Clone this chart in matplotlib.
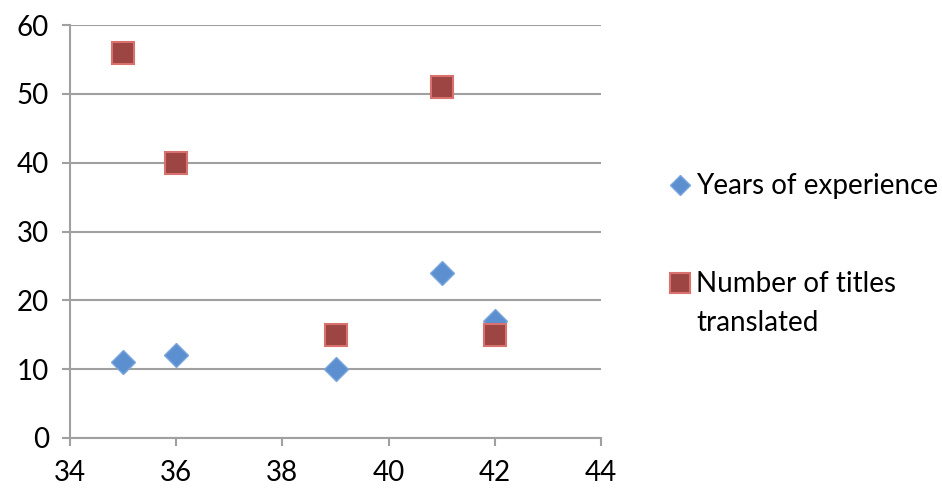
import matplotlib.pyplot as plt
from matplotlib.lines import Line2D

# translator ages vs experience / output
age = [35, 36, 39, 41, 42]
years_exp = [11, 12, 10, 24, 17]
titles = [56, 40, 15, 51, 15]
series_names = ['Years of experience', 'Number of titles\ntranslated']

plt.rcParams['font.family'] = ['Lato', 'DejaVu Sans']
grey = '#a0a0a0'
blue_face, blue_edge = '#5b8fcf', '#7aa6dc'
red_face, red_edge = '#9c4543', '#d9716f'

fig = plt.figure(figsize=(9.42, 4.91), dpi=100)
ax = fig.add_axes([70 / 942, 1 - 438 / 491, 531 / 942, 413 / 491])

ax.plot(age, years_exp, linestyle='none', marker='D', markersize=12,
        markerfacecolor=blue_face, markeredgecolor=blue_edge, markeredgewidth=1,
        zorder=3)
ax.plot(age, titles, linestyle='none', marker='s', markersize=16.5,
        markerfacecolor=red_face, markeredgecolor=red_edge, markeredgewidth=1.5,
        zorder=4)

ax.set_xlim(34, 44)
ax.set_ylim(0, 60)
ax.set_xticks(range(34, 45, 2))
ax.set_yticks(range(0, 61, 10))
ax.yaxis.grid(True, color=grey, linewidth=1.5)
ax.set_axisbelow(True)
for s in ['top', 'right']:
    ax.spines[s].set_visible(False)
for s in ['left', 'bottom']:
    ax.spines[s].set_color(grey)
    ax.spines[s].set_linewidth(1.5)
ax.tick_params(axis='both', colors=grey, labelcolor='black', labelsize=20,
               length=6, width=1.5, direction='out')
ax.tick_params(axis='x', pad=10)
ax.tick_params(axis='y', pad=9)

# legend on the right, handle lined up with the first text line
def fx(px):
    return px / 942

def fy(px):
    return 1 - px / 491

fig.add_artist(Line2D([fx(680)], [fy(185)], marker='D', markersize=10,
                      markerfacecolor=blue_face, markeredgecolor=blue_edge,
                      markeredgewidth=1, linestyle='none'))
fig.text(fx(696), fy(186), series_names[0], fontsize=20, va='center', ha='left')
fig.add_artist(Line2D([fx(680)], [fy(283)], marker='s', markersize=14,
                      markerfacecolor=red_face, markeredgecolor=red_edge,
                      markeredgewidth=1.5, linestyle='none'))
fig.text(fx(696), fy(271), series_names[1], fontsize=20, va='top', ha='left',
         linespacing=1.6)

fig.savefig('out.png', dpi=100)
